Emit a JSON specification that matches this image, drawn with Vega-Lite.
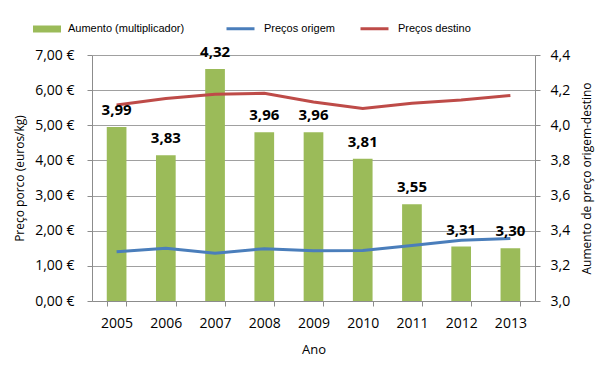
{
  "$schema": "https://vega.github.io/schema/vega-lite/v6.json",
  "width": 443,
  "height": 246,
  "autosize": "none",
  "padding": {"left": 92, "top": 55, "right": 75, "bottom": 67},
  "config": {
    "locale": {"number": {"decimal": ",", "thousands": ".", "grouping": [3], "currency": ["", " €"]}},
    "view": {"stroke": null},
    "font": "Open Sans",
    "axis": {
      "labelFont": "Open Sans", "titleFont": "Open Sans",
      "labelColor": "#000", "titleColor": "#000",
      "labelFontSize": 14, "titleFontSize": 12, "titleFontWeight": "normal",
      "domainColor": "#8c8c8c", "tickColor": "#8c8c8c", "gridColor": "#a0a0a0",
      "tickSize": 5
    },
    "legend": {"labelFont": "Liberation Sans", "labelFontSize": 11, "labelColor": "#000", "padding": 0}
  },
  "data": {"values": [
    {"year": "2005", "aumento": 3.99, "origem": 1.40, "destino": 5.58},
    {"year": "2006", "aumento": 3.83, "origem": 1.50, "destino": 5.76},
    {"year": "2007", "aumento": 4.32, "origem": 1.36, "destino": 5.88},
    {"year": "2008", "aumento": 3.96, "origem": 1.49, "destino": 5.91},
    {"year": "2009", "aumento": 3.96, "origem": 1.43, "destino": 5.66},
    {"year": "2010", "aumento": 3.81, "origem": 1.44, "destino": 5.48},
    {"year": "2011", "aumento": 3.55, "origem": 1.58, "destino": 5.63},
    {"year": "2012", "aumento": 3.31, "origem": 1.73, "destino": 5.72},
    {"year": "2013", "aumento": 3.30, "origem": 1.78, "destino": 5.85}
  ]},
  "encoding": {
    "x": {
      "field": "year", "type": "ordinal",
      "scale": {"paddingInner": 0.6, "paddingOuter": 0.3},
      "axis": {"title": "Ano", "titleFontSize": 13, "labelAngle": 0, "tickBand": "extent", "grid": false, "labelPadding": 10, "titlePadding": 13}
    }
  },
  "layer": [
    {
      "mark": {"type": "bar"},
      "encoding": {
        "y": {
          "field": "aumento", "type": "quantitative",
          "scale": {"domain": [3, 4.4], "zero": false, "nice": false},
          "axis": {"orient": "right", "title": "Aumento de preço origem-destino", "values": [3, 3.2, 3.4, 3.6, 3.8, 4, 4.2, 4.4], "format": ".1f", "grid": false, "labelPadding": 10, "titlePadding": 12, "titleAngle": 270, "titleBaseline": "top"}
        },
        "y2": {"datum": 3},
        "fill": {
          "datum": "Aumento (multiplicador)",
          "scale": {"range": ["#9bbb59"]},
          "legend": {"title": null, "orient": "none", "legendX": -59, "legendY": -40, "symbolType": "M-1,-0.25H1V0.25H-1Z", "symbolSize": 784, "symbolStrokeWidth": 0, "labelOffset": 7}
        }
      }
    },
    {
      "mark": {"type": "line", "strokeWidth": 3},
      "encoding": {
        "y": {
          "field": "destino", "type": "quantitative",
          "scale": {"domain": [0, 7], "nice": false},
          "axis": {"orient": "left", "title": "Preço porco (euros/kg)", "values": [0, 1, 2, 3, 4, 5, 6, 7], "format": "$.2f", "grid": true, "labelPadding": 13, "titlePadding": 8}
        },
        "stroke": {
          "datum": "Preços destino",
          "scale": {"domain": ["Preços origem", "Preços destino"], "range": ["#4a7ebb", "#be4b48"]},
          "legend": {"title": null, "orient": "none", "direction": "horizontal", "legendX": 133, "legendY": -42, "symbolType": "stroke", "symbolSize": 784, "symbolStrokeWidth": 3, "labelOffset": 8, "columnPadding": 19}
        }
      }
    },
    {
      "mark": {"type": "line", "strokeWidth": 3},
      "encoding": {
        "y": {
          "field": "origem", "type": "quantitative",
          "scale": {"domain": [0, 7], "nice": false},
          "axis": null
        },
        "stroke": {"datum": "Preços origem"}
      }
    },
    {
      "mark": {"type": "text", "font": "Open Sans", "fontWeight": "bold", "fontSize": 15, "baseline": "alphabetic", "dy": -12, "color": "#000"},
      "encoding": {
        "y": {
          "field": "aumento", "type": "quantitative",
          "scale": {"domain": [3, 4.4], "zero": false, "nice": false},
          "axis": null
        },
        "text": {"field": "aumento", "type": "quantitative", "format": ".2f"}
      }
    }
  ],
  "resolve": {"scale": {"y": "independent"}}
}
